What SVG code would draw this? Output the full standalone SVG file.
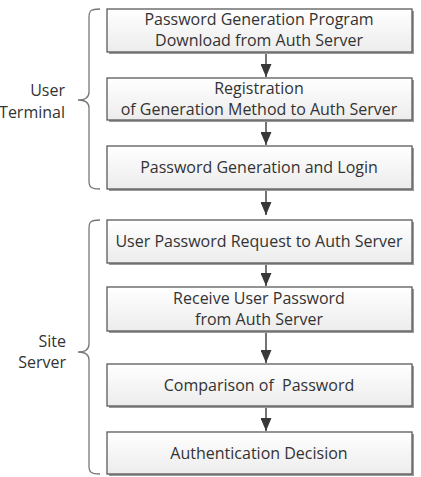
<svg xmlns="http://www.w3.org/2000/svg" width="421" height="477" viewBox="0 0 421 477">
<style>
.box{fill:url(#g);stroke:#5a5a5a;stroke-width:1.3}
.sh{fill:#9a9a9a}
.t{font-family:"Open Sans","Liberation Sans",sans-serif;font-size:16px;fill:#333;text-anchor:middle}
.l{font-family:"Open Sans","Liberation Sans",sans-serif;font-size:16px;fill:#333;text-anchor:end}
.br{fill:none;stroke:#777;stroke-width:1.3}
.c{stroke:#444;stroke-width:1.5}
</style>
<defs>
<linearGradient id="g" x1="0" y1="0" x2="0" y2="1">
<stop offset="0" stop-color="#ffffff"/>
<stop offset="1" stop-color="#ececec"/>
</linearGradient>
<marker id="ah" viewBox="0 0 13 11" refX="13" refY="5.5" markerWidth="13" markerHeight="11" markerUnits="userSpaceOnUse" orient="auto">
<path d="M0,0 L13,5.5 L0,11 z" fill="#383838"/>
</marker>
</defs>
<g id="connectors">
<line class="c" x1="266" y1="52" x2="266" y2="77" marker-end="url(#ah)"/>
<line class="c" x1="266" y1="120" x2="266" y2="145" marker-end="url(#ah)"/>
<line class="c" x1="266" y1="189" x2="266" y2="215" marker-end="url(#ah)"/>
<line class="c" x1="266" y1="263" x2="266" y2="286" marker-end="url(#ah)"/>
<line class="c" x1="266" y1="331" x2="266" y2="363" marker-end="url(#ah)"/>
<line class="c" x1="266" y1="406" x2="266" y2="431" marker-end="url(#ah)"/>
</g>
<g id="brace-user">
<path class="br" d="M100,9 C90,9 89,11 89,18 L89,92 C89,98 84,100 78,100 C84,100 89,102 89,108 L89,181 C89,187 91,189 100,189"/>
<text class="l" x="65" y="96">User</text>
<text class="l" x="65" y="118">Terminal</text>
</g>
<g id="brace-site">
<path class="br" d="M100,220 C90,220 89,222 89,229 L89,344 C89,350 84,352 78,352 C84,352 89,354 89,360 L89,466 C89,472 91,474 100,474"/>
<text class="l" x="66" y="347">Site</text>
<text class="l" x="66" y="368">Server</text>
</g>
<g id="n1">
<rect class="sh" x="109" y="11" width="305" height="43"/>
<rect class="box" x="107" y="9" width="305" height="43"/>
<text class="t" x="259" y="25">Password Generation Program</text>
<text class="t" x="259" y="46">Download from Auth Server</text>
</g>
<g id="n2">
<rect class="sh" x="109" y="80" width="305" height="42"/>
<rect class="box" x="107" y="78" width="305" height="42"/>
<text class="t" x="259" y="94">Registration</text>
<text class="t" x="259" y="115">of Generation Method to Auth Server</text>
</g>
<g id="n3">
<rect class="sh" x="109" y="148" width="305" height="43"/>
<rect class="box" x="107" y="146" width="305" height="43"/>
<text class="t" x="259" y="173">Password Generation and Login</text>
</g>
<g id="n4">
<rect class="sh" x="109" y="222" width="305" height="43"/>
<rect class="box" x="107" y="220" width="305" height="43"/>
<text class="t" x="259" y="247">User Password Request to Auth Server</text>
</g>
<g id="n5">
<rect class="sh" x="109" y="289" width="305" height="44"/>
<rect class="box" x="107" y="287" width="305" height="44"/>
<text class="t" x="259" y="304">Receive User Password</text>
<text class="t" x="259" y="325">from Auth Server</text>
</g>
<g id="n6">
<rect class="sh" x="109" y="366" width="305" height="42"/>
<rect class="box" x="107" y="364" width="305" height="42"/>
<text class="t" x="259" y="391" xml:space="preserve">Comparison of  Password</text>
</g>
<g id="n7">
<rect class="sh" x="109" y="434" width="305" height="42"/>
<rect class="box" x="107" y="432" width="305" height="42"/>
<text class="t" x="259" y="459">Authentication Decision</text>
</g>
</svg>
